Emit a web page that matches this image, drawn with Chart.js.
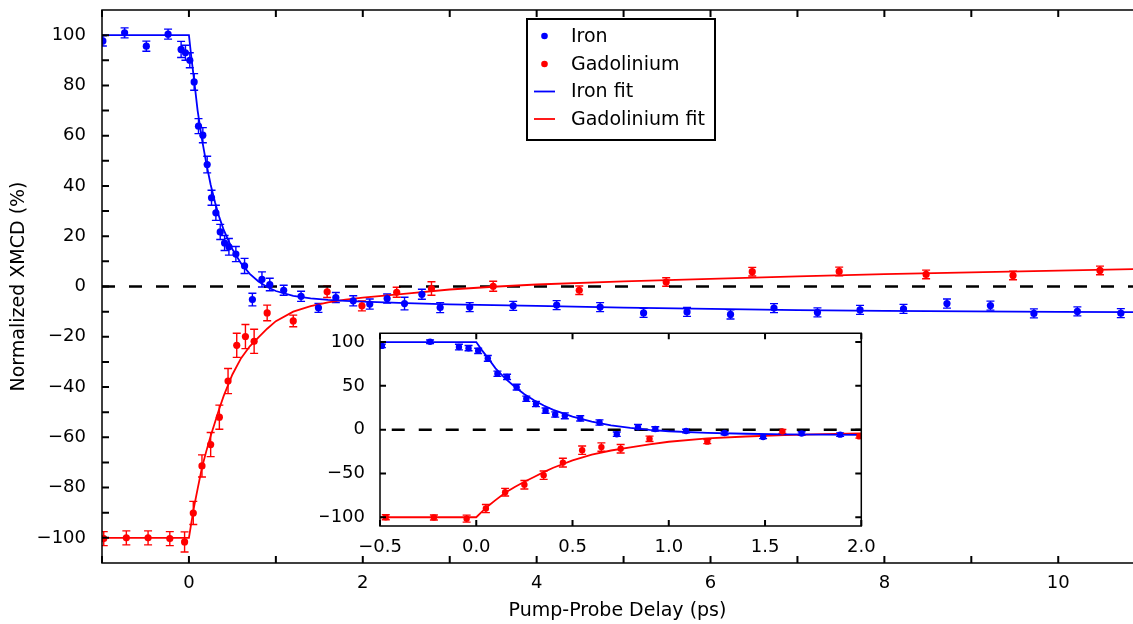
<!DOCTYPE html>
<html>
<head>
<meta charset="utf-8">
<script src="https://cdn.jsdelivr.net/npm/chart.js@4.4.1/dist/chart.umd.min.js"></script>
<style>
  html, body { margin: 0; padding: 0; background: #fff; }
  #wrap { position: relative; width: 1133px; height: 624px; }
  #main { position: absolute; left: 0; top: 0; }
  #inset { position: absolute; left: 320px; top: 323px; }
</style>
</head>
<body>
<div id="wrap">
  <canvas id="main" width="1133" height="624" style="width:1133px;height:624px"></canvas>
  <canvas id="inset" width="560" height="240" style="width:560px;height:240px"></canvas>
</div>
<script>
// measured data (x in ps, y in %)
const ironX = [-0.99, -0.74, -0.49, -0.24, -0.09, -0.04, 0.01, 0.06, 0.11, 0.16, 0.21, 0.26, 0.31, 0.36, 0.41, 0.46,
  0.54, 0.64, 0.73, 0.84, 0.93, 1.09, 1.29, 1.49, 1.69, 1.89, 2.08, 2.28, 2.48, 2.68, 2.89, 3.23, 3.73, 4.23,
  4.73, 5.23, 5.73, 6.23, 6.73, 7.23, 7.72, 8.22, 8.72, 9.22, 9.72, 10.22, 10.72];
const ironY = [97.7, 100.9, 95.6, 100.4, 94.3, 93.0, 90.0, 81.4, 63.8, 60.2, 48.5, 35.3, 29.3, 21.7, 17.3, 15.8,
  12.9, 8.2, -5.2, 2.8, 0.8, -1.5, -3.9, -8.5, -4.4, -5.7, -7.0, -4.8, -6.8, -3.1, -8.4, -8.2, -7.7, -7.4,
  -8.2, -10.5, -10.1, -11.1, -8.6, -10.3, -9.3, -8.9, -6.8, -7.6, -10.7, -9.9, -10.6];
const ironErr = [2, 2, 2, 2, 3.2, 3, 3, 3.3, 3, 3, 3.3, 3, 3, 3, 3, 3.3,
  3, 3, 2.5, 3, 2.5, 2, 2, 1.8, 2, 2, 2, 1.8, 2.5, 2, 2, 1.8, 1.8, 1.8,
  1.8, 1.8, 1.8, 1.8, 1.8, 1.8, 1.8, 1.8, 1.8, 1.8, 1.8, 1.8, 1.8];

const gdX = [-0.98, -0.72, -0.47, -0.22, -0.05, 0.05, 0.15, 0.25, 0.35, 0.45, 0.55, 0.65, 0.75, 0.90, 1.20,
  1.59, 1.99, 2.39, 2.79, 3.50, 4.49, 5.49, 6.48, 7.48, 8.48, 9.48, 10.48];
const gdY = [-100.3, -100, -100, -100.3, -101.6, -90.1, -71.4, -62.9, -52.0, -37.6, -23.4, -19.9, -21.8, -10.5, -13.7,
  -2.1, -7.7, -2.3, -0.8, 0.1, -1.5, 1.8, 5.9, 6.0, 4.8, 4.4, 6.4];
const gdErr = [2.8, 2.8, 2.8, 2.8, 4, 4.6, 4.4, 4.8, 4.8, 5, 4.8, 4.8, 4.8, 3.1, 2.3,
  2.3, 2, 2, 2.7, 2, 1.7, 1.7, 1.7, 1.7, 1.7, 1.7, 1.7];

// fitted curves
const ironFitX = [-1, 0, 0.03, 0.06, 0.1, 0.15, 0.2, 0.25, 0.3, 0.35, 0.4, 0.5, 0.6, 0.7, 0.8, 0.9, 1.0,
  1.2, 1.4, 1.6, 1.8, 2.0, 2.5, 3, 3.5, 4, 5, 6, 7, 8, 9, 10, 10.9];
const ironFitY = [100, 100, 90.5, 82, 70, 58.5, 49, 40.5, 33.5, 27.5, 22.5, 14.8, 9.2, 5.0, 2.0, -0.2, -1.8,
  -3.7, -4.7, -5.3, -5.7, -6.0, -6.6, -7.1, -7.4, -7.7, -8.4, -8.9, -9.4, -9.7, -9.9, -10.1, -10.2];
const gdFitX = [-1, 0, 0.03, 0.06, 0.1, 0.15, 0.2, 0.25, 0.3, 0.35, 0.4, 0.5, 0.6, 0.7, 0.8, 0.9, 1.0,
  1.2, 1.4, 1.6, 1.8, 2.0, 2.5, 3, 3.5, 4, 5, 6, 7, 8, 9, 10, 10.9];
const gdFitY = [-100, -100, -93.5, -87.5, -80.5, -72, -65.5, -59.5, -54, -48.5, -43.5, -35, -28.5, -23.8, -20.2, -16.8, -13.8,
  -10.0, -7.8, -6.3, -5.2, -4.4, -2.8, -1.2, -0.1, 0.8, 2.0, 3.0, 4.0, 4.9, 5.6, 6.3, 6.9];

const zeroX = [-1, 10.9];
const zeroY = [0, 0];

const mainXTicks = [-1, 0, 1, 2, 3, 4, 5, 6, 7, 8, 9, 10];
const mainYTicks = [-100, -90, -80, -70, -60, -50, -40, -30, -20, -10, 0, 10, 20, 30, 40, 50, 60, 70, 80, 90, 100];
const insetXTicks = [-0.5, 0, 0.5, 1.0, 1.5, 2.0];
const insetYTicks = [-100, -50, 0, 50, 100];

const legendNames = ['Iron', 'Gadolinium', 'Iron fit', 'Gadolinium fit'];

const BLUE = '#0000ff';
const RED = '#ff0000';
const FONT = 'DejaVu Sans';

const pts = (xs, ys) => xs.map((x, i) => ({ x: x, y: ys[i] }));
const minus = s => String(s).replace('-', '\u2212');

function makeDatasets(r) {
  return [
    { label: 'Iron', data: pts(ironX, ironY), errors: ironErr, showLine: false,
      pointRadius: r, pointBackgroundColor: BLUE, pointBorderWidth: 0, borderColor: BLUE },
    { label: 'Gadolinium', data: pts(gdX, gdY), errors: gdErr, showLine: false,
      pointRadius: r, pointBackgroundColor: RED, pointBorderWidth: 0, borderColor: RED },
    { label: 'Iron fit', data: pts(ironFitX, ironFitY), showLine: true, pointRadius: 0,
      borderColor: BLUE, borderWidth: 1.8, tension: 0 },
    { label: 'Gadolinium fit', data: pts(gdFitX, gdFitY), showLine: true, pointRadius: 0,
      borderColor: RED, borderWidth: 1.8, tension: 0 },
    { label: 'zero', data: pts(zeroX, zeroY), showLine: true, pointRadius: 0,
      borderColor: '#000', borderWidth: 2.5, borderDash: [13, 14] }
  ];
}

// kill the automatic label overflow padding so the plot area sits where we put it
const noPad = s => { s.paddingTop = 0; s.paddingBottom = 0; s.paddingLeft = 0; s.paddingRight = 0; };

// error bars, inward ticks and frame
const decor = {
  id: 'decor',
  beforeDraw(chart) {
    const a = chart.chartArea;
    chart.ctx.save();
    chart.ctx.fillStyle = '#fff';
    chart.ctx.fillRect(a.left, a.top, a.right - a.left, a.bottom - a.top);
    chart.ctx.restore();
  },
  beforeDatasetsDraw(chart) {
    const { ctx, chartArea: a, scales: { x, y } } = chart;
    ctx.save();
    ctx.beginPath();
    ctx.rect(a.left, a.top, a.right - a.left, a.bottom - a.top);
    ctx.clip();
    ctx.lineWidth = 1.4;
    chart.data.datasets.forEach(ds => {
      if (!ds.errors) return;
      ctx.strokeStyle = ds.borderColor;
      ctx.beginPath();
      ds.data.forEach((p, i) => {
        const px = x.getPixelForValue(p.x);
        const y1 = y.getPixelForValue(p.y - ds.errors[i]);
        const y2 = y.getPixelForValue(p.y + ds.errors[i]);
        ctx.moveTo(px, y1); ctx.lineTo(px, y2);
        ctx.moveTo(px - 4, y1); ctx.lineTo(px + 4, y1);
        ctx.moveTo(px - 4, y2); ctx.lineTo(px + 4, y2);
      });
      ctx.stroke();
    });
    ctx.restore();
  },
  afterDatasetsDraw(chart, args, opts) {
    const { ctx, chartArea: a, scales: { x, y } } = chart;
    const len = opts.len;
    ctx.save();
    ctx.strokeStyle = '#000';
    ctx.lineWidth = 2;
    ctx.beginPath();
    x.ticks.forEach(t => {
      const px = x.getPixelForValue(t.value);
      ctx.moveTo(px, a.bottom); ctx.lineTo(px, a.bottom - len);
      ctx.moveTo(px, a.top); ctx.lineTo(px, a.top + len);
    });
    y.ticks.forEach(t => {
      const py = y.getPixelForValue(t.value);
      ctx.moveTo(a.left, py); ctx.lineTo(a.left + len, py);
      if (opts.box) { ctx.moveTo(a.right, py); ctx.lineTo(a.right - len, py); }
    });
    ctx.stroke();
    ctx.lineWidth = 1.5;
    ctx.beginPath();
    if (opts.box) {
      ctx.rect(a.left, a.top, a.right - a.left, a.bottom - a.top);
    } else {
      ctx.moveTo(a.right, a.top); ctx.lineTo(a.left, a.top);
      ctx.lineTo(a.left, a.bottom); ctx.lineTo(a.right, a.bottom);
    }
    ctx.stroke();
    ctx.restore();
  }
};

const boxLegend = {
  id: 'boxLegend',
  afterDraw(chart, args, opts) {
    if (!opts.show) return;
    const ctx = chart.ctx;
    ctx.save();
    ctx.fillStyle = '#fff';
    ctx.fillRect(527, 19, 188, 121);
    ctx.strokeStyle = '#000';
    ctx.lineWidth = 2;
    ctx.strokeRect(527, 19, 188, 121);
    const colors = [BLUE, RED, BLUE, RED];
    const rows = [36, 64, 91.5, 119];
    ctx.font = '19px "' + FONT + '"';
    ctx.textBaseline = 'middle';
    legendNames.forEach((name, i) => {
      ctx.fillStyle = colors[i];
      ctx.strokeStyle = colors[i];
      if (i < 2) {
        ctx.beginPath();
        ctx.arc(544.5, rows[i], 3.3, 0, Math.PI * 2);
        ctx.fill();
      } else {
        ctx.lineWidth = 1.8;
        ctx.beginPath();
        ctx.moveTo(534, rows[i]); ctx.lineTo(555, rows[i]);
        ctx.stroke();
      }
      ctx.fillStyle = '#000';
      ctx.fillText(name, 571, rows[i] + 1);
    });
    ctx.restore();
  }
};

Chart.register(decor, boxLegend);

new Chart(document.getElementById('main'), {
  type: 'scatter',
  data: { datasets: makeDatasets(3.6) },
  options: {
    responsive: false,
    animation: false,
    devicePixelRatio: 1,
    layout: { autoPadding: false, padding: { left: 0, right: 0, top: 10, bottom: 0 } },
    plugins: {
      legend: { display: false },
      tooltip: { enabled: false },
      decor: { len: 7, box: false },
      boxLegend: { show: true }
    },
    scales: {
      x: {
        type: 'linear', min: -1, max: 10.86,
        afterBuildTicks: s => { s.ticks = mainXTicks.map(v => ({ value: v })); },
        afterFit: s => { s.height = 61; noPad(s); },
        grid: { display: false }, border: { display: false },
        ticks: { padding: 2, color: '#000', font: { family: FONT, size: 18 },
          maxRotation: 0, autoSkip: false,
          callback: v => (v >= 0 && v % 2 === 0) ? minus(v) : '' },
        title: { display: true, text: 'Pump-Probe Delay (ps)', color: '#000',
          font: { family: FONT, size: 19 }, padding: { top: 0, bottom: 2 } }
      },
      y: {
        type: 'linear', min: -110, max: 110,
        afterBuildTicks: s => { s.ticks = mainYTicks.map(v => ({ value: v })); },
        afterFit: s => { s.width = 102; noPad(s); },
        grid: { display: false }, border: { display: false },
        ticks: { padding: 8, color: '#000', font: { family: FONT, size: 18 }, autoSkip: false,
          callback: v => (v % 20 === 0) ? minus(v) : '' },
        title: { display: true, text: 'Normalized XMCD (%)', color: '#000',
          font: { family: FONT, size: 19 }, padding: { top: 8, bottom: 0 } }
      }
    }
  }
});

new Chart(document.getElementById('inset'), {
  type: 'scatter',
  data: { datasets: makeDatasets(3.2) },
  options: {
    responsive: false,
    animation: false,
    devicePixelRatio: 1,
    layout: { autoPadding: false, padding: { left: 0, right: 18.7, top: 10.3, bottom: 0 } },
    plugins: {
      legend: { display: false },
      tooltip: { enabled: false },
      decor: { len: 6, box: true },
      boxLegend: { show: false }
    },
    scales: {
      x: {
        type: 'linear', min: -0.5, max: 2.0,
        afterBuildTicks: s => { s.ticks = insetXTicks.map(v => ({ value: v })); },
        afterFit: s => { s.height = 37; noPad(s); },
        grid: { display: false }, border: { display: false },
        ticks: { padding: 3, color: '#000', font: { family: FONT, size: 18 },
          maxRotation: 0, autoSkip: false, callback: v => minus(v.toFixed(1)) }
      },
      y: {
        type: 'linear', min: -110, max: 110,
        afterBuildTicks: s => { s.ticks = insetYTicks.map(v => ({ value: v })); },
        afterFit: s => { s.width = 60; noPad(s); },
        grid: { display: false }, border: { display: false },
        ticks: { padding: 7, color: '#000', font: { family: FONT, size: 18 }, autoSkip: false,
          callback: v => minus(v) }
      }
    }
  }
});
</script>
</body>
</html>
